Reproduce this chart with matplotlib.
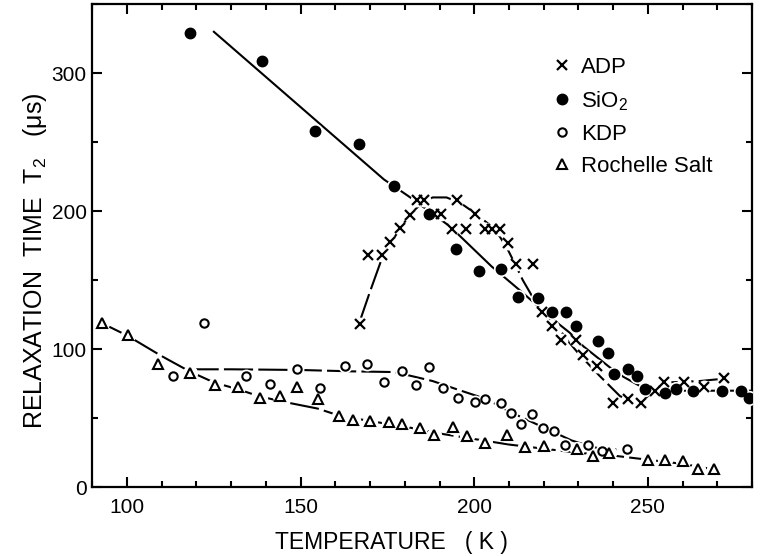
import matplotlib
matplotlib.use('Agg')
import matplotlib.pyplot as plt
from matplotlib.lines import Line2D
from matplotlib.ticker import MultipleLocator

plt.rcParams['font.family'] = ['Liberation Sans', 'DejaVu Sans']
plt.rcParams['mathtext.default'] = 'regular'

# ADP (crosses)
adp_T = [167.2, 169.3, 173.5, 175.6, 178.7, 181.6, 183.6, 185.5, 188.5, 190.5, 193.7, 194.9,
         197.5, 200.2, 203.0, 205.2, 207.3, 209.7, 212.1, 216.9, 219.5, 222.3, 225.1, 229.3,
         231.3, 235.4, 240.1, 244.2, 248.1, 252.0, 254.7, 260.3, 266.2, 272.0]
adp_T2 = [118, 168, 168, 178, 188, 197, 208, 208, 198, 198, 187, 208,
          187, 198, 187, 187, 187, 177, 162, 162, 127, 117, 107, 107,
          96, 88, 61, 64, 61, 70, 76, 76, 73, 79]

# SiO2 (filled circles)
sio2_T = [118.2, 139.0, 154.0, 166.9, 176.9, 186.9, 194.6, 201.5, 207.6, 212.6, 218.5, 222.5,
          226.3, 229.4, 235.6, 238.4, 240.2, 244.4, 246.9, 249.1, 254.8, 258.2, 262.9, 271.3,
          276.8, 279.2]
sio2_T2 = [329, 309, 258, 249, 218, 198, 173, 157, 158, 138, 137, 127,
           127, 117, 106, 97, 82, 86, 81, 71, 68, 71, 70, 70,
           70, 65]

# KDP (open circles)
kdp_T = [113.1, 122.2, 134.2, 141.1, 149.0, 155.7, 162.7, 169.0, 174.1, 179.2, 183.1, 187.1,
         191.0, 195.3, 200.2, 203.0, 207.6, 210.7, 213.6, 216.7, 219.9, 223.0, 226.0, 232.8,
         236.9, 244.0]
kdp_T2 = [81, 119, 81, 75, 86, 72, 88, 89, 76, 84, 74, 87,
          72, 65, 62, 64, 61, 54, 46, 53, 43, 41, 31, 31,
          26, 28]

# Rochelle salt (open triangles)
rs_T = [92.7, 100.2, 109.0, 118.2, 125.4, 131.9, 138.4, 144.1, 149.0, 154.9, 161.0, 165.1,
        169.9, 175.4, 179.2, 184.3, 188.4, 194.0, 198.0, 203.2, 209.5, 214.6, 220.0, 229.7,
        234.3, 238.8, 249.9, 255.0, 260.0, 264.4, 269.1]
rs_T2 = [119, 110, 89, 83, 74, 73, 65, 66, 73, 64, 52, 49,
         48, 47, 46, 43, 38, 44, 37, 32, 38, 29, 30, 28,
         23, 25, 20, 20, 19, 13, 13]

# hand-drawn curves through the data
sio2_fit_T = [125, 174, 181, 193, 205, 213, 218, 223, 227.5, 231.5, 239, 243, 248, 252, 260, 270, 280]
sio2_fit_T2 = [330, 223, 211, 189, 160, 143, 132, 121, 112, 102, 87, 80, 73, 70, 70, 70, 70]

adp_fit_T = [167, 170, 173, 176, 179, 182, 185, 188, 192, 196, 200, 204, 207, 209.5, 211.5,
             214, 217, 220, 224, 227, 230, 236, 242, 245, 248, 252, 256, 265, 273]
adp_fit_T2 = [120, 142, 163, 177, 189, 199, 206, 210, 210, 206, 199, 191, 183, 173, 163,
              150, 137, 127, 116, 106, 97, 81, 66, 63, 62, 70, 76, 77, 79]

kdp_fit_T = [118, 130, 150, 165, 177, 183, 188, 195, 201, 205, 210, 216, 222, 228, 233, 238, 244]
kdp_fit_T2 = [85.5, 85.5, 85, 84, 83.5, 80, 77, 71, 66, 62, 55, 48, 41, 34, 30, 27, 28]

rs_fit_T = [92.7, 100, 110, 118, 125, 132, 138, 145, 155, 161, 170, 180, 190, 200, 210, 220,
            230, 240, 250, 260, 269]
rs_fit_T2 = [119, 110, 95, 84, 76, 71, 66, 62, 57, 52, 48, 44, 39, 35, 31, 28, 25, 23, 20, 17, 13]

labels = ['ADP', 'SiO$_2$', 'KDP', 'Rochelle Salt']

fig = plt.figure(figsize=(7.6, 5.56), dpi=100)
ax = fig.add_axes([0.1215, 0.1235, 0.868, 0.869])

lw = 1.5
dash = (0, (14, 2.5))
ax.plot(sio2_fit_T, sio2_fit_T2, color='k', lw=lw, zorder=2)
ax.plot(adp_fit_T, adp_fit_T2, color='k', lw=lw, ls=dash, zorder=2)
ax.plot(kdp_fit_T, kdp_fit_T2, color='k', lw=lw, ls=dash, zorder=2)
ax.plot(rs_fit_T, rs_fit_T2, color='k', lw=lw, ls=dash, zorder=2)

# white halos so the curves break around the points
for T, v, ms in [(adp_T, adp_T2, 9), (sio2_T, sio2_T2, 10), (kdp_T, kdp_T2, 9), (rs_T, rs_T2, 10)]:
    ax.plot(T, v, ls='none', marker='o', ms=ms, mfc='white', mec='white', zorder=3)

ax.plot(adp_T, adp_T2, ls='none', marker='x', ms=6.5, mew=1.6, color='k', zorder=4)
ax.plot(sio2_T, sio2_T2, ls='none', marker='o', ms=7.5, color='k', zorder=4)
ax.plot(kdp_T, kdp_T2, ls='none', marker='o', ms=6, mew=1.5, mfc='white', mec='k', zorder=4)
ax.plot(rs_T, rs_T2, ls='none', marker='^', ms=7, mew=1.5, mfc='white', mec='k', zorder=4)

ax.set_xlim(90, 280)
ax.set_ylim(0, 350)
ax.xaxis.set_major_locator(MultipleLocator(50))
ax.xaxis.set_minor_locator(MultipleLocator(10))
ax.yaxis.set_major_locator(MultipleLocator(100))
ax.yaxis.set_minor_locator(MultipleLocator(50))
ax.tick_params(which='both', direction='in', top=True, right=True, width=1.5, labelsize=15)
ax.tick_params(which='major', length=7)
ax.tick_params(which='minor', length=4.5)
ax.tick_params(axis='x', pad=8)
ax.tick_params(axis='y', pad=4)
for s in ax.spines.values():
    s.set_linewidth(1.6)

ax.set_xlabel('TEMPERATURE   ( K )', fontsize=16.5)
ax.xaxis.set_label_coords(0.453, -0.09)
ax.xaxis.label.set_va('top')
ax.set_ylabel('RELAXATION  TIME  T$_2$   ($\\mu$s)', fontsize=18)
ax.yaxis.set_label_coords(-0.066, 0.47)

handles = [
    Line2D([], [], ls='none', marker='x', ms=6.5, mew=1.6, color='k'),
    Line2D([], [], ls='none', marker='o', ms=7.5, color='k'),
    Line2D([], [], ls='none', marker='o', ms=6, mew=1.5, mfc='white', mec='k'),
    Line2D([], [], ls='none', marker='^', ms=7, mew=1.5, mfc='white', mec='k'),
]
ax.legend(handles, labels, frameon=False, loc='upper left', bbox_to_anchor=(0.665, 0.932),
          fontsize=16, handlelength=1.0, handletextpad=0.35, labelspacing=0.5, borderpad=0.4)

fig.savefig('out.png', dpi=100)
